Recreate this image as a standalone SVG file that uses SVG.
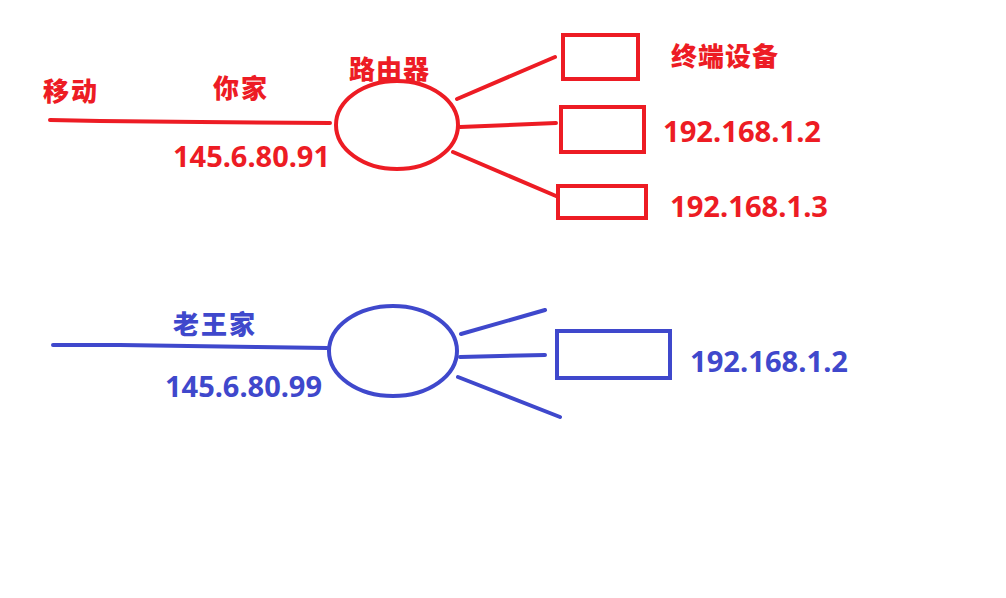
<svg xmlns="http://www.w3.org/2000/svg" width="1006" height="598" viewBox="0 0 1006 598">
<style>
.r{stroke:#ed1c24;fill:none;stroke-width:4;stroke-linecap:round}
.b{stroke:#3f48cc;fill:none;stroke-width:4;stroke-linecap:round}
.tr{fill:#ed1c24;font-family:"Noto Sans","Noto Sans CJK SC",sans-serif;font-weight:bold}
.tb{fill:#3f48cc;font-family:"Noto Sans","Noto Sans CJK SC",sans-serif;font-weight:bold}
.cj{font-size:26px;font-family:"Noto Sans CJK SC",sans-serif;font-weight:900}
.num{font-size:28px}
</style>
<rect width="1006" height="598" fill="#fff"/>
<g id="connectors">
<polyline class="r" points="50,120 100,121 200,122 330,123"/>
<line class="r" x1="457" y1="99" x2="555" y2="57"/>
<line class="r" x1="460" y1="127" x2="556" y2="123"/>
<line class="r" x1="453" y1="152" x2="556" y2="196"/>
<polyline class="b" points="53,345 120,345 257,347 327,348"/>
<line class="b" x1="461" y1="334" x2="545" y2="310"/>
<line class="b" x1="460" y1="357" x2="545" y2="355"/>
<line class="b" x1="458" y1="377" x2="560" y2="417"/>
</g>
<g id="labels-red">
<text class="tr cj" x="43" y="101" textLength="54">移动</text>
<text class="tr cj" x="213" y="98" textLength="54">你家</text>
<text class="tr num" x="173" y="167" textLength="157" lengthAdjust="spacingAndGlyphs">145.6.80.91</text>
</g>
<g id="router-red">
<ellipse class="r" cx="397" cy="125" rx="61" ry="44"/>
<text class="tr cj" x="349" y="79" textLength="80">路由器</text>
</g>
<g id="device-1">
<rect class="r" x="563" y="35" width="75" height="44"/>
<text class="tr cj" x="671" y="66" textLength="107">终端设备</text>
</g>
<g id="device-2">
<rect class="r" x="561" y="107" width="83" height="45"/>
<text class="tr num" x="663" y="142" textLength="158" lengthAdjust="spacingAndGlyphs">192.168.1.2</text>
</g>
<g id="device-3">
<rect class="r" x="558" y="186" width="88" height="32"/>
<text class="tr num" x="670" y="217" textLength="158" lengthAdjust="spacingAndGlyphs">192.168.1.3</text>
</g>
<g id="labels-blue">
<text class="tb cj" x="173" y="334" textLength="82">老王家</text>
<text class="tb num" x="165" y="397" textLength="157" lengthAdjust="spacingAndGlyphs">145.6.80.99</text>
</g>
<g id="router-blue">
<ellipse class="b" cx="393" cy="351" rx="64" ry="45"/>
</g>
<g id="device-blue">
<rect class="b" x="557" y="331" width="113" height="47"/>
<text class="tb num" x="690" y="372" textLength="158" lengthAdjust="spacingAndGlyphs">192.168.1.2</text>
</g>
</svg>
